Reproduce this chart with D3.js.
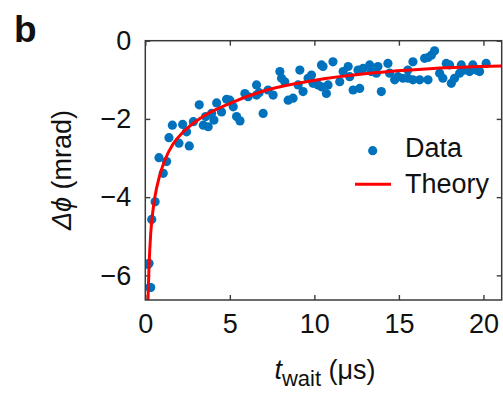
<!DOCTYPE html>
<html>
<head>
<meta charset="utf-8">
<script src="https://cdn.jsdelivr.net/npm/d3@7"></script>
<style>
  body { margin: 0; background: #fff; }
  svg text { font-family: "Liberation Sans", Arial, sans-serif; fill: #111; }
</style>
</head>
<body>
<svg id="chart" width="503" height="393"></svg>
<script>
// measured points (t_wait in us, delta phi in mrad)
var dataT = [0.16, 0.26, 0.22, 0.32, 0.38, 0.58, 0.81, 1.06, 1.26, 1.40, 1.60, 1.99, 2.21, 2.44, 2.60, 2.84,
  3.19, 3.43, 3.57, 3.72, 3.92, 4.06, 4.22, 4.51, 4.81, 5.0, 5.20, 5.40, 5.60, 5.89, 6.08, 6.58, 6.58, 6.73,
  6.97, 7.26, 7.56, 7.96, 8.06, 8.25, 8.45, 8.74, 9.04, 9.14, 9.33, 9.63, 9.83, 9.92, 10.22, 10.42, 10.42,
  10.51, 10.71, 10.81, 11.1, 11.5, 11.7, 12.0, 12.09, 12.29, 12.58, 12.68, 12.88, 13.27, 13.37, 13.67, 13.76,
  13.96, 14.35, 14.45, 14.75, 14.94, 15.24, 15.53, 15.53, 15.83, 15.83, 16.23, 16.52, 16.72, 16.72, 16.92,
  17.11, 17.41, 17.6, 17.8, 18.0, 18.1, 18.29, 18.59, 18.69, 18.88, 19.18, 19.37, 19.57, 19.77, 20.16];
var dataPhi = [-5.72, -6.31, -5.69, -6.31, -4.57, -4.12, -2.99, -3.39, -3.09, -2.48, -2.16, -2.62, -2.14, -2.33, -2.69, -2.07,
  -1.64, -2.16, -1.94, -2.20, -1.86, -2.03, -1.59, -1.82, -1.50, -1.52, -1.69, -1.94, -2.05, -1.35, -1.43, -1.13, -1.39, -1.33,
  -1.86, -1.26, -1.39, -0.79, -0.96, -1.05, -1.52, -1.47, -1.13, -0.75, -1.30, -0.96, -0.88, -1.09, -1.13, -0.62, -1.18,
  -0.66, -1.35, -1.13, -0.54, -1.05, -0.79, -0.66, -0.92, -1.26, -0.75, -1.22, -0.71, -0.62, -0.79, -0.83, -0.66,
  -1.30, -0.58, -0.83, -1.00, -0.92, -0.96, -0.75, -0.96, -0.54, -1.00, -1.00, -0.45, -0.43, -1.00, -0.37,
  -0.26, -0.83, -0.96, -0.58, -0.62, -1.09, -0.96, -0.83, -0.62, -0.75, -0.79, -0.62, -0.75, -0.79, -0.58];

// theory curve
var theoryT = [0.16, 0.22, 0.32, 0.43, 0.57, 0.83, 1.16, 1.66, 2.25, 3.23, 5.01, 7.18, 10.04, 13.1, 17.04, 21.08];
var theoryPhi = [-6.63, -5.78, -4.93, -4.42, -3.99, -3.48, -3.05, -2.63, -2.33, -1.99, -1.60, -1.26, -1.01, -0.84, -0.71, -0.65];

var xTicks = [0, 5, 10, 15, 20];
var yTicks = [0, -2, -4, -6];

var svg = d3.select("#chart"),
    margin = {top: 40.7, right: 1.3, bottom: 93, left: 145.3},
    width = +svg.attr("width") - margin.left - margin.right,
    height = +svg.attr("height") - margin.top - margin.bottom;

var x = d3.scaleLinear().domain([0, 21.08]).range([0, width]),
    y = d3.scaleLinear().domain([-6.63, 0]).range([height, 0]);

var g = svg.append("g")
    .attr("transform", "translate(" + margin.left + "," + margin.top + ")");

svg.append("defs").append("clipPath").attr("id", "clip")
  .append("rect").attr("width", width).attr("height", height);

// axes with inward ticks on all sides
var axisColor = "#3a3a3a";
function styleAxis(sel, labels) {
  sel.select(".domain").remove();
  sel.selectAll(".tick line").attr("stroke", axisColor).attr("stroke-width", 1.4);
  if (labels) {
    sel.selectAll(".tick text").style("font-size", "27px").attr("fill", "#111");
  } else {
    sel.selectAll(".tick text").remove();
  }
}
var fmt = function(d) { return d < 0 ? "\u2212" + Math.abs(d) : d; };

g.append("g").attr("transform", "translate(0," + height + ")")
  .call(d3.axisBottom(x).tickValues(xTicks).tickSize(-5).tickPadding(14).tickFormat(fmt))
  .call(styleAxis, true);
g.append("g")
  .call(d3.axisTop(x).tickValues(xTicks).tickSize(-5))
  .call(styleAxis, false);
g.append("g")
  .call(d3.axisLeft(y).tickValues(yTicks).tickSize(-5).tickPadding(14).tickFormat(fmt))
  .call(styleAxis, true);
g.append("g").attr("transform", "translate(" + width + ",0)")
  .call(d3.axisRight(y).tickValues(yTicks).tickSize(-5))
  .call(styleAxis, false);

var dots = g.append("g").attr("clip-path", "url(#clip)");
dots.selectAll("circle")
  .data(dataT.map(function(t, i) { return {t: t, v: dataPhi[i]}; }))
  .enter().append("circle")
  .attr("cx", function(d) { return x(d.t); })
  .attr("cy", function(d) { return y(d.v); })
  .attr("r", 4.6)
  .attr("fill", "#0072BD");

var line = d3.line()
  .curve(d3.curveMonotoneX)
  .x(function(d) { return x(d.t); })
  .y(function(d) { return y(d.v); });

g.append("path")
  .datum(theoryT.map(function(t, i) { return {t: t, v: theoryPhi[i]}; }))
  .attr("clip-path", "url(#clip)")
  .attr("fill", "none")
  .attr("stroke", "#FF0000")
  .attr("stroke-width", 3)
  .attr("d", line);

// frame
g.append("rect")
  .attr("width", width).attr("height", height)
  .attr("fill", "none").attr("stroke", axisColor).attr("stroke-width", 1.5);

// legend
g.append("circle").attr("cx", 372.7 - margin.left).attr("cy", 150.7 - margin.top)
  .attr("r", 4.6).attr("fill", "#0072BD");
g.append("text").attr("x", 405 - margin.left).attr("y", 157.5 - margin.top)
  .style("font-size", "27px").text("Data");
g.append("line")
  .attr("x1", 355 - margin.left).attr("x2", 391 - margin.left)
  .attr("y1", 184.3 - margin.top).attr("y2", 184.3 - margin.top)
  .attr("stroke", "#FF0000").attr("stroke-width", 3);
g.append("text").attr("x", 405 - margin.left).attr("y", 193 - margin.top)
  .style("font-size", "27px").text("Theory");

// axis titles
var xl = svg.append("text").attr("x", 325).attr("y", 379)
  .attr("text-anchor", "middle").style("font-size", "27px");
xl.append("tspan").style("font-style", "italic").text("t");
xl.append("tspan").attr("dy", 7).style("font-size", "22px").text("wait");
xl.append("tspan").attr("dy", -7).text(" (\u03bcs)");

var yl = svg.append("text")
  .attr("transform", "translate(71,170) rotate(-90)")
  .attr("text-anchor", "middle").style("font-size", "27px");
yl.append("tspan").style("font-style", "italic").text("\u0394\u03d5");
yl.append("tspan").text(" (mrad)");

// panel letter
svg.append("text").attr("x", 14).attr("y", 42)
  .style("font-size", "37px").style("font-weight", "bold").text("b");
</script>
</body>
</html>
